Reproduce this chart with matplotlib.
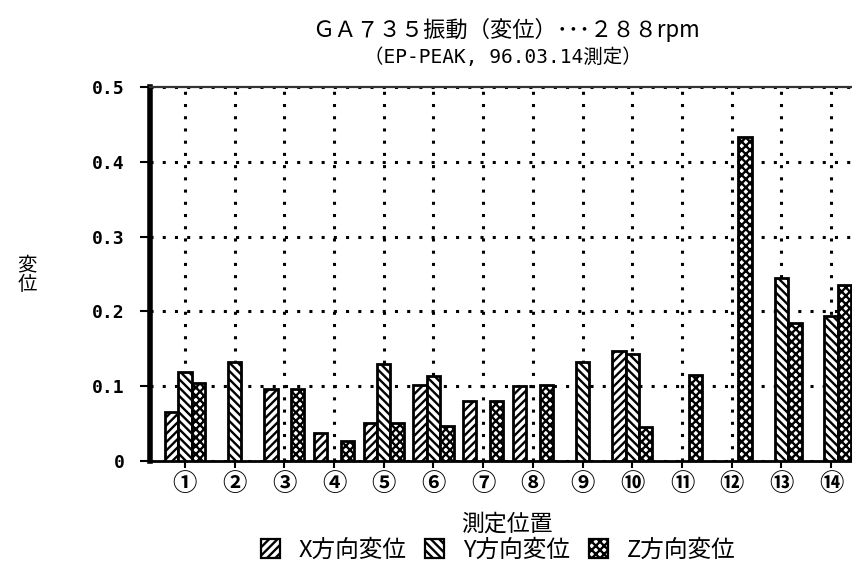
import numpy as np
import matplotlib
matplotlib.use("Agg")
import matplotlib.pyplot as plt
from matplotlib.patches import Patch

plt.rcParams['font.family'] = ['Noto Sans CJK JP', 'DejaVu Sans']
plt.rcParams['hatch.linewidth'] = 1.7

# 測定位置と各方向の変位
positions = ['①', '②', '③', '④', '⑤', '⑥', '⑦', '⑧', '⑨', '⑩', '⑪', '⑫', '⑬', '⑭']
x_disp = [0.066, 0, 0.096, 0.037, 0.051, 0.102, 0.080, 0.100, 0, 0.147, 0, 0, 0, 0]
y_disp = [0.119, 0.132, 0, 0, 0.130, 0.114, 0, 0, 0.132, 0.143, 0, 0, 0.245, 0.194]
z_disp = [0.104, 0, 0.096, 0.027, 0.051, 0.047, 0.080, 0.102, 0, 0.045, 0.115, 0.433, 0.184, 0.235]
series_names = ['X方向変位', 'Y方向変位', 'Z方向変位']
hatches = ['////', '\\\\\\\\', 'xxxx']
y_ticks = [0, 0.1, 0.2, 0.3, 0.4, 0.5]
y_ticklabels = ['0', '0.1', '0.2', '0.3', '0.4', '0.5']

fig = plt.figure(figsize=(8.53, 5.69), dpi=100)
ax = fig.add_axes([150 / 853, 1 - 461 / 569, 1 - 150 / 853, (461 - 87) / 569])

idx = np.arange(1, len(positions) + 1)
w = 0.27
for k, vals in enumerate([x_disp, y_disp, z_disp]):
    vals = np.array(vals)
    m = vals > 0
    ax.bar(idx[m] + (k - 1) * w, vals[m], width=w, facecolor='white',
           edgecolor='black', linewidth=2.0, hatch=hatches[k], zorder=3)

ax.set_xlim(0.30, 14.44)
ax.set_ylim(0, 0.5)
ax.set_yticks(y_ticks)
ax.set_yticklabels(y_ticklabels, fontsize=13, fontweight='bold',
                   family=['DejaVu Sans Mono'])
ax.set_xticks(idx)
ax.set_xticklabels(positions, fontsize=17.5, fontweight='bold')

# 点線のグリッド
ax.grid(True, linestyle=(0, (1, 3)), linewidth=2.2, color='black', zorder=1)
ax.tick_params(axis='y', length=7, width=1.5, pad=11)
ax.tick_params(axis='x', length=5, width=1.5, pad=3)

ax.spines['right'].set_visible(False)
ax.spines['left'].set_linewidth(4)
ax.spines['bottom'].set_linewidth(2)
ax.spines['top'].set_linewidth(1.6)
ax.spines['top'].set_color('#333333')

fig.text(0.593, 0.947, 'ＧＡ７３５振動（変位）･･･２８８rpm', ha='center', va='center', fontsize=16)
fig.text(0.589, 0.900, '（EP-PEAK, 96.03.14測定）', ha='center', va='center', fontsize=14,
         family=['DejaVu Sans Mono', 'Noto Sans CJK JP'])
fig.text(0.032, 0.517, '変\n位', ha='center', va='center', fontsize=14, linespacing=0.9)
fig.text(0.594, 0.079, '測定位置', ha='center', va='center', fontsize=16.5)

handles = [Patch(facecolor='white', edgecolor='black', hatch=h, linewidth=1.6) for h in hatches]
fig.legend(handles, series_names, loc='center', bbox_to_anchor=(0.584, 0.033), ncol=3,
           frameon=False, fontsize=17, handlelength=0.8, handleheight=0.8,
           handletextpad=0.8, columnspacing=0.8, borderpad=0.1)

fig.savefig('out.png', dpi=100)
